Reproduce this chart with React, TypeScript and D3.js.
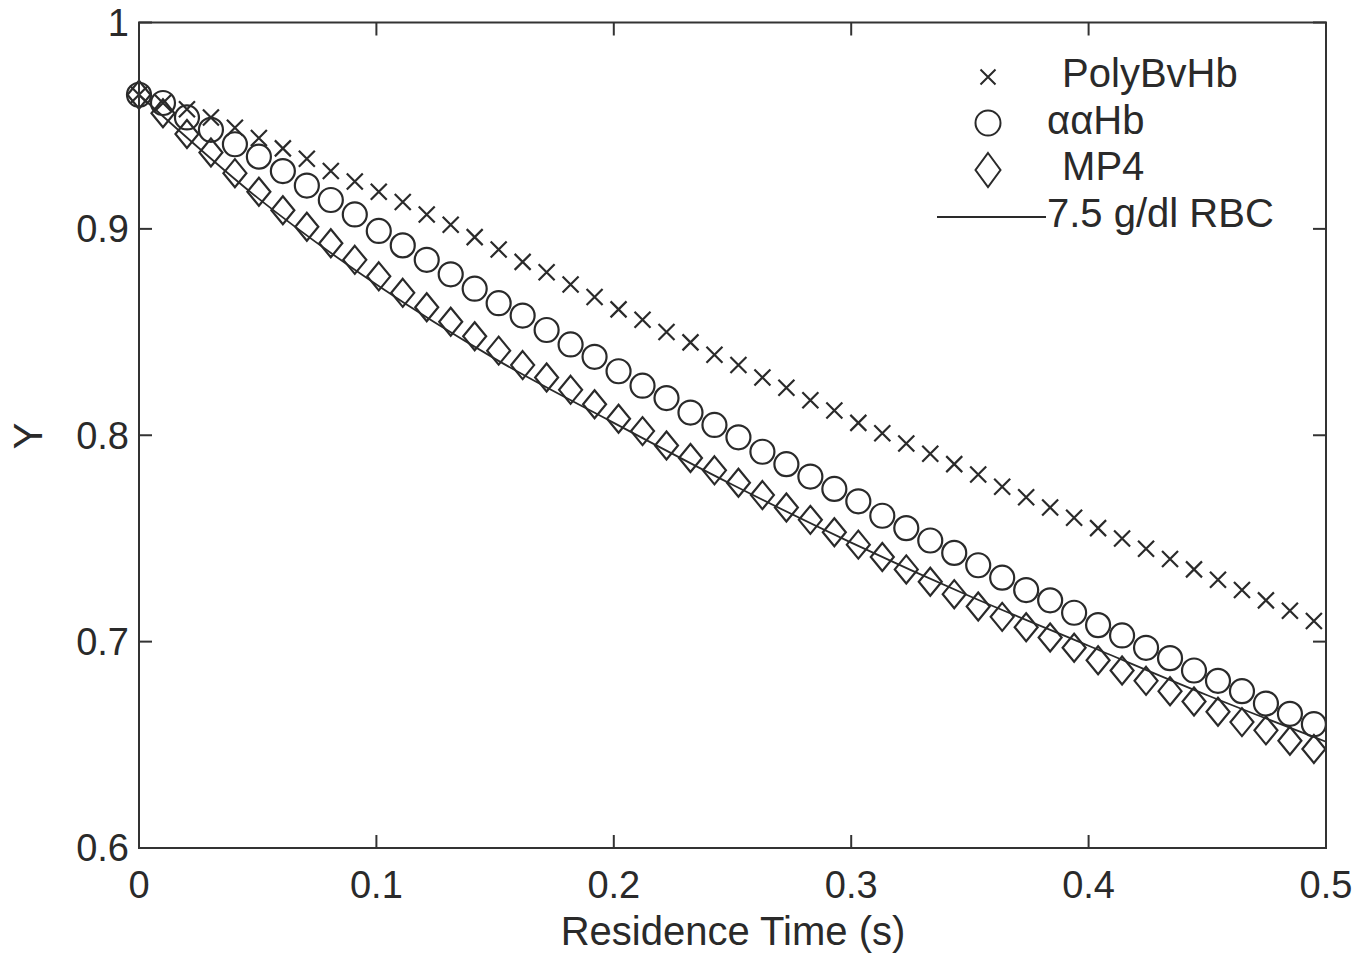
import React from 'react'
import * as d3 from 'd3'

// residence time of each marker (s)
const time = [
  0, 0.0101, 0.0202, 0.0303, 0.0404, 0.0505, 0.0606, 0.0707, 0.0808, 0.0909,
  0.101, 0.1111, 0.1212, 0.1313, 0.1414, 0.1515, 0.1616, 0.1717, 0.1818, 0.1919,
  0.202, 0.2121, 0.2222, 0.2323, 0.2424, 0.2525, 0.2626, 0.2727, 0.2828, 0.2929,
  0.303, 0.3131, 0.3232, 0.3333, 0.3434, 0.3535, 0.3636, 0.3737, 0.3838, 0.3939,
  0.404, 0.4141, 0.4242, 0.4343, 0.4444, 0.4545, 0.4646, 0.4747, 0.4848, 0.4949,
]

const polyBvHb = [
  0.965, 0.961, 0.958, 0.954, 0.949, 0.944, 0.939, 0.934, 0.928, 0.923,
  0.918, 0.913, 0.907, 0.902, 0.896, 0.89, 0.884, 0.879, 0.873, 0.867,
  0.861, 0.856, 0.85, 0.845, 0.839, 0.834, 0.828, 0.823, 0.817, 0.812,
  0.806, 0.801, 0.796, 0.791, 0.786, 0.781, 0.775, 0.77, 0.765, 0.76,
  0.755, 0.75, 0.745, 0.74, 0.735, 0.73, 0.725, 0.72, 0.715, 0.71,
]

const aaHb = [
  0.965, 0.961, 0.954, 0.948, 0.941, 0.935, 0.928, 0.921, 0.914, 0.907,
  0.899, 0.892, 0.885, 0.878, 0.871, 0.864, 0.858, 0.851, 0.844, 0.838,
  0.831, 0.824, 0.818, 0.811, 0.805, 0.799, 0.792, 0.786, 0.78, 0.774,
  0.768, 0.761, 0.755, 0.749, 0.743, 0.737, 0.731, 0.725, 0.72, 0.714,
  0.708, 0.703, 0.697, 0.692, 0.686, 0.681, 0.676, 0.67, 0.665, 0.66,
]

const mp4 = [
  0.965, 0.956, 0.946, 0.937, 0.927, 0.918, 0.909, 0.901, 0.893, 0.885,
  0.877, 0.869, 0.862, 0.855, 0.848, 0.841, 0.834, 0.828, 0.822, 0.815,
  0.808, 0.802, 0.795, 0.789, 0.783, 0.777, 0.771, 0.765, 0.759, 0.753,
  0.747, 0.741, 0.735, 0.729, 0.723, 0.717, 0.712, 0.707, 0.702, 0.697,
  0.691, 0.686, 0.681, 0.676, 0.671, 0.666, 0.661, 0.657, 0.652, 0.648,
]

// 7.5 g/dl RBC curve
const rbcTime = [0, 0.05, 0.1, 0.15, 0.2, 0.25, 0.3, 0.35, 0.4, 0.45, 0.5]
const rbcY = [0.965, 0.915, 0.873, 0.837, 0.806, 0.776, 0.748, 0.722, 0.698, 0.674, 0.6515]

const xTicks = [0, 0.1, 0.2, 0.3, 0.4, 0.5]
const yTicks = [0.6, 0.7, 0.8, 0.9, 1]
const legendLabels = [' PolyBvHb', 'ααHb', ' MP4', '7.5 g/dl RBC']

const W = 1369
const H = 960
const left = 139
const right = 1326
const top = 22.5
const bottom = 848
const ink = '#2a2a2a'
const font = '"Liberation Sans", Arial, Helvetica, sans-serif'

const crossPath = (s) => `M${-s},${-s}L${s},${s}M${-s},${s}L${s},${-s}`
const diamondPath = (w, h) => `M0,${-h}L${w},0L0,${h}L${-w},0Z`

const App = () => {
  const x = d3.scaleLinear().domain([0, 0.5]).range([left, right])
  const y = d3.scaleLinear().domain([0.6, 1]).range([bottom, top])

  const line = d3
    .line()
    .x((d) => x(d[0]))
    .y((d) => y(d[1]))
    .curve(d3.curveMonotoneX)

  const rbc = rbcTime.map((t, i) => [t, rbcY[i]])
  const tick = 13

  return (
    <svg
      width={W}
      height={H}
      style={{ position: 'absolute', left: 0, top: 0, background: '#fff' }}
      fontFamily={font}
    >
      <rect x={0} y={0} width={W} height={H} fill="#fff" />

      {/* RBC line */}
      <path d={line(rbc)} fill="none" stroke={ink} strokeWidth={1.8} />

      {/* markers */}
      <g fill="none" stroke={ink} strokeWidth={2.2}>
        {time.map((t, i) => (
          <path key={'x' + i} transform={`translate(${x(t)},${y(polyBvHb[i])})`} d={crossPath(8)} />
        ))}
        {time.map((t, i) => (
          <circle key={'o' + i} cx={x(t)} cy={y(aaHb[i])} r={12} />
        ))}
        {time.map((t, i) => (
          <path key={'d' + i} transform={`translate(${x(t)},${y(mp4[i])})`} d={diamondPath(11.5, 14)} />
        ))}
      </g>

      {/* axes box and ticks */}
      <g stroke="#333" strokeWidth={2} fill="none">
        <rect x={left} y={top} width={right - left} height={bottom - top} />
        {xTicks.map((t) => (
          <g key={'xt' + t}>
            <line x1={x(t)} x2={x(t)} y1={bottom} y2={bottom - tick} />
            <line x1={x(t)} x2={x(t)} y1={top} y2={top + tick} />
          </g>
        ))}
        {yTicks.map((t) => (
          <g key={'yt' + t}>
            <line x1={left} x2={left + tick} y1={y(t)} y2={y(t)} />
            <line x1={right} x2={right - tick} y1={y(t)} y2={y(t)} />
          </g>
        ))}
      </g>

      <g fill={ink} fontSize={38}>
        {xTicks.map((t) => (
          <text key={'xl' + t} x={x(t)} y={898} textAnchor="middle">
            {d3.format('~g')(t)}
          </text>
        ))}
        {yTicks.map((t) => (
          <text key={'yl' + t} x={129} y={y(t)} dy="0.35em" textAnchor="end">
            {d3.format('~g')(t)}
          </text>
        ))}
      </g>

      <text x={733} y={945} textAnchor="middle" fontSize={40} fill={ink}>
        Residence Time (s)
      </text>
      <text
        transform={`translate(${42},${436}) rotate(-90)`}
        textAnchor="middle"
        fontSize={40}
        fill={ink}
      >
        Y
      </text>

      {/* legend */}
      <g fill="none" stroke={ink} strokeWidth={2}>
        <path transform="translate(988,77)" d={crossPath(7.5)} />
        <circle cx={988} cy={123} r={12.5} />
        <path transform="translate(988,170)" d={diamondPath(12.5, 17)} />
        <line x1={937} x2={1046} y1={217} y2={217} strokeWidth={1.8} />
      </g>
      <g fill={ink} fontSize={40} style={{ whiteSpace: 'pre' }}>
        {legendLabels.map((l, i) => (
          <text key={l} x={l.startsWith(' ') ? 1051 : 1047} y={87 + i * 46.7} xmlSpace="preserve">
            {l}
          </text>
        ))}
      </g>
    </svg>
  )
}

export default App
